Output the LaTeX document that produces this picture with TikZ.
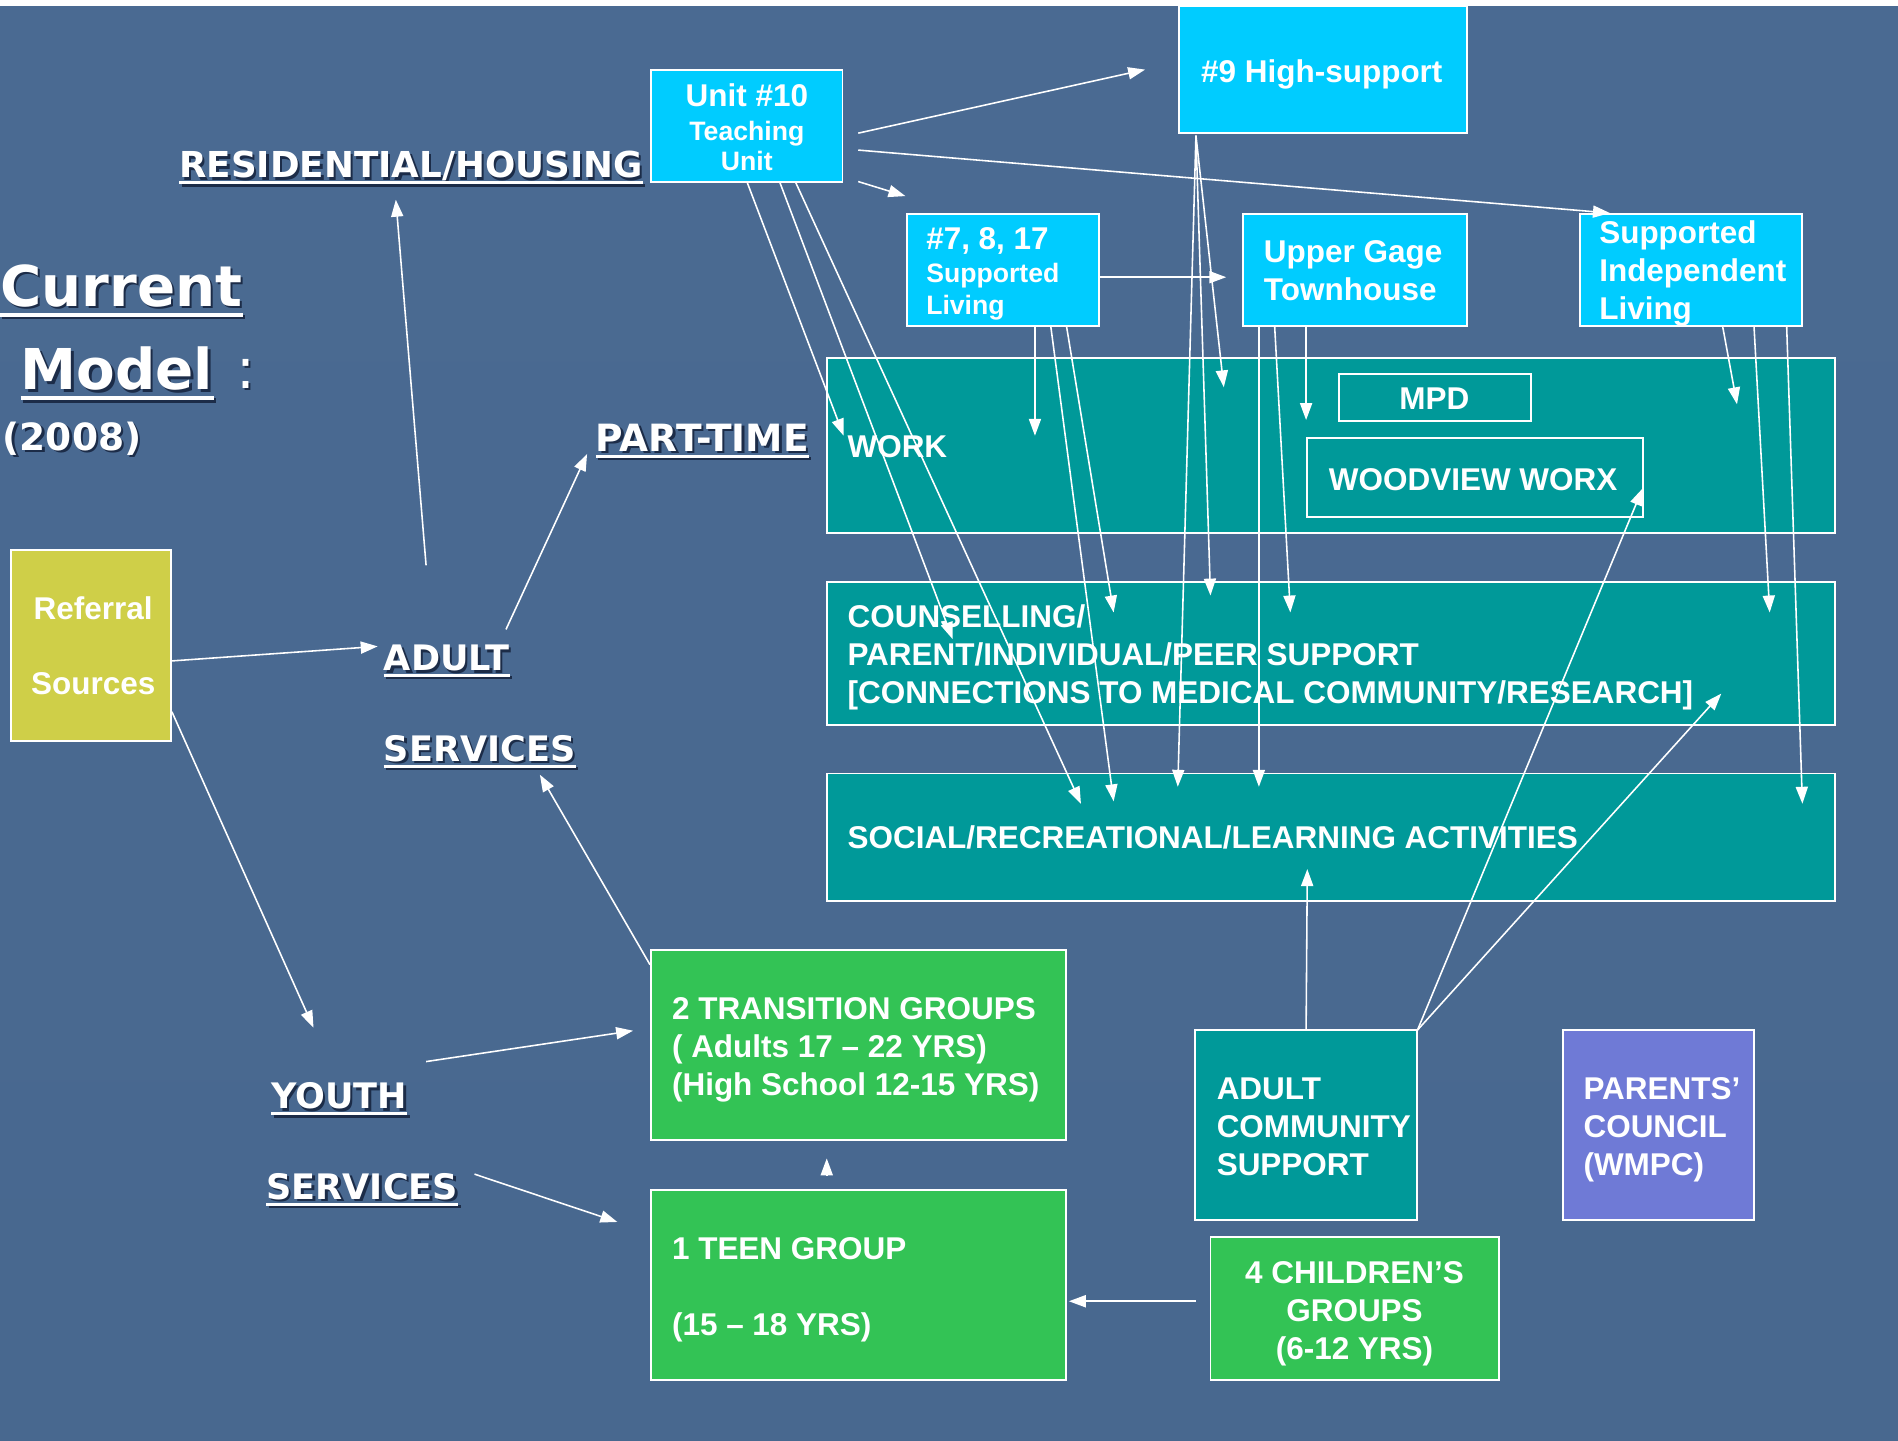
\documentclass[tikz,border=0pt]{standalone}
\usepackage{fontspec}
\setmainfont{Liberation Sans}
\newfontfamily\vfont{DejaVu Sans}
\usetikzlibrary{arrows.meta}
\definecolor{bgtop}{HTML}{4A6A92}
\definecolor{bgmid}{HTML}{6286AF}
\definecolor{bgbot}{HTML}{48688F}
\definecolor{cyanbox}{HTML}{00CCFF}
\definecolor{tealbox}{HTML}{009999}
\definecolor{greenbox}{HTML}{33C355}
\definecolor{yelbox}{HTML}{CFCF48}
\definecolor{purbox}{HTML}{6F7AD6}
\definecolor{shadowc}{HTML}{1C2C48}
% text with a drop shadow, in one box
\newcommand\shd[1]{\rlap{\kern2pt\raisebox{-2pt}{\textcolor{shadowc}{#1}}}#1}
% name, x, baseline y, font size, underline offset, underline width, text
\newcommand\ulab[7]{%
  \node[lbl, font=\vfont\bfseries\fontsize{#4}{#4}\selectfont] (#1) at (#2,#3) {\shd{#7}};
  \draw[draw=shadowc, line width=#6pt] ([shift={(2,#5+2)}]#1.base west) -- ([shift={(2,#5+2)}]#1.base east);
  \draw[draw=white, line width=#6pt] ([shift={(0,#5)}]#1.base west) -- ([shift={(0,#5)}]#1.base east);
}
\begin{document}
\begin{tikzpicture}[x=1pt,y=-1pt,
  box/.style={draw=white, line width=1.6pt, inner sep=0pt, outer sep=0pt},
  btxt/.style={text=white, inner sep=0pt, anchor=base west, align=left,
    font=\bfseries\fontsize{26}{31.5}\selectfont},
  stxt/.style={btxt, font=\bfseries\fontsize{22}{26}\selectfont},
  arr/.style={draw=white, line width=1.3pt, -{Triangle[length=14pt,width=10pt]}},
  lbl/.style={text=white, inner sep=0pt, anchor=base west},
]
\useasboundingbox (0,0) rectangle (1568,1190.4);
\shade[top color=bgtop, middle color=bgmid, bottom color=bgbot] (0,0) rectangle (1568,1190.4);
\fill[white] (0,0) rectangle (1568,5);

% ---------- title and labels ----------
\ulab{cur}{0}{253}{46.5}{7}{3.6}{Current}
\ulab{mod}{17}{322}{46.5}{7}{3.6}{Model}
\node[lbl, font=\vfont\fontsize{46.5}{46.5}\selectfont] (colon) at (195,321) {\shd{:}};
\node[lbl, font=\vfont\bfseries\fontsize{31}{31}\selectfont] (yr) at (2,372) {\shd{(2008)}};

\ulab{res}{148}{147}{29.5}{4}{2.4}{RESIDENTIAL/HOUSING}
\ulab{pt}{492}{373}{31}{4}{2.4}{PART-TIME}
\ulab{adult}{317}{554}{29}{4}{2.4}{ADULT}
\ulab{aserv}{317}{629}{29}{4}{2.4}{SERVICES}
\ulab{youth}{224}{916}{29}{4}{2.4}{YOUTH}
\ulab{yserv}{220}{991}{29}{4}{2.4}{SERVICES}

% ---------- boxes ----------
\node[box, fill=cyanbox, minimum width=158pt, minimum height=92pt] (unit10) at (617,104) {};
\node[box, fill=cyanbox, minimum width=238pt, minimum height=105pt] (hs9) at (1093,57.5) {};
\node[box, fill=cyanbox, minimum width=159pt, minimum height=92pt] (sl7) at (828.5,223) {};
\node[box, fill=cyanbox, minimum width=185pt, minimum height=92pt] (ugage) at (1119.5,223) {};
\node[box, fill=cyanbox, minimum width=184pt, minimum height=92pt] (sil) at (1397,223) {};
\node[box, fill=tealbox, minimum width=833pt, minimum height=144pt] (work) at (1099.5,368) {};
\node[box, fill=tealbox, minimum width=159pt, minimum height=39pt] (mpd) at (1185.5,328.5) {};
\node[box, fill=tealbox, minimum width=277pt, minimum height=65pt] (wood) at (1218.5,394.5) {};
\node[box, fill=tealbox, minimum width=833pt, minimum height=118pt] (couns) at (1099.5,540) {};
\node[box, fill=tealbox, minimum width=833pt, minimum height=105pt] (social) at (1099.5,691.5) {};
\node[box, fill=yelbox, minimum width=132pt, minimum height=158pt] (ref) at (75,533) {};
\node[box, fill=greenbox, minimum width=343pt, minimum height=157pt] (trans) at (709.5,863.5) {};
\node[box, fill=greenbox, minimum width=343pt, minimum height=157pt] (teen) at (709.5,1061.5) {};
\node[box, fill=tealbox, minimum width=184pt, minimum height=157pt] (acs) at (1079,929.5) {};
\node[box, fill=purbox, minimum width=158pt, minimum height=157pt] (wmpc) at (1370,929.5) {};
\node[box, fill=greenbox, minimum width=238pt, minimum height=118pt] (child) at (1119,1081) {};

% ---------- box texts (base = last line's baseline) ----------
\node[btxt, anchor=base] (unit10a) at (617,88) {Unit \#10};
\node[stxt, anchor=base] (unit10b) at (617,116) {Teaching};
\node[stxt, anchor=base] (unit10c) at (617,141) {Unit};
\node[btxt, anchor=base] (hs9t) at (1092,68) {\#9 High-support};
\node[btxt] (sl7a) at (765,206) {\#7, 8, 17};
\node[stxt] (sl7b) at (765,233) {Supported};
\node[stxt] (sl7c) at (765,260) {Living};
\node[btxt] (ugaget) at (1044,248) {Upper Gage\\Townhouse};
\node[btxt] (silt) at (1321,264) {Supported\\Independent\\Living};
\node[btxt] (workt) at (700,378) {WORK};
\node[btxt, anchor=base] (mpdt) at (1185,338) {MPD};
\node[btxt, anchor=base] (woodt) at (1217,405) {WOODVIEW WORX};
\node[btxt] (counst) at (700,581) {COUNSELLING/\\PARENT/INDIVIDUAL/PEER SUPPORT\\{[}CONNECTIONS TO MEDICAL COMMUNITY/RESEARCH]};
\node[btxt] (socialt) at (700,701) {SOCIAL/RECREATIONAL/LEARNING ACTIVITIES};
\node[btxt, anchor=base, align=center] (reft) at (77,574) {Referral\\[31pt]Sources};
\node[btxt] (transt) at (555,905) {2 TRANSITION GROUPS\\( Adults 17 – 22 YRS)\\(High School 12-15 YRS)};
\node[btxt] (teent) at (555,1103) {1 TEEN GROUP\\[31pt](15 – 18 YRS)};
\node[btxt] (acst) at (1005,971) {ADULT\\COMMUNITY\\SUPPORT};
\node[btxt] (wmpct) at (1308,971) {PARENTS’\\COUNCIL\\(WMPC)};
\node[btxt, anchor=base, align=center] (childt) at (1119,1123) {4 CHILDREN’S\\GROUPS\\(6-12 YRS)};

% ---------- free ends ----------
\coordinate (cA1) at (312,534);
\coordinate (cA2) at (259,849);
\coordinate (cA3s) at (352,467);
\coordinate (cA3e) at (327,165);
\coordinate (cA4s) at (418,520);
\coordinate (cA4e) at (485,375);
\coordinate (cA5) at (446,640);
\coordinate (cA6) at (352,877);
\coordinate (cA7) at (392,970);

% ---------- connectors ----------
\draw[arr] ([shift={(1,13)}]ref.east) -- (cA1);
\draw[arr] ([shift={(1,55)}]ref.east) -- (cA2);
\draw[arr] (cA3s) -- (cA3e);
\draw[arr] (cA4s) -- (cA4e);
\draw[arr] ([shift={(-1,12)}]trans.north west) -- (cA5);
\draw[arr] (cA6) -- ([shift={(-15,-12)}]trans.west);
\draw[arr] (cA7) -- ([shift={(-28,-52)}]teen.west);
\draw[arr] ([shift={(-26.5,-12)}]teen.north) -- ([shift={(-26.5,-26)}]teen.north);
\draw[arr] ([shift={(-12,-6)}]child.west) -- ([shift={(2,13.5)}]teen.east);
\draw[arr] (acs.north) -- ([shift={(397,79)}]social.north west);
\draw[arr] (acs.north east) -- ([shift={(0,9)}]wood.east);
\draw[arr] (acs.north east) -- ([shift={(739,92)}]couns.north west);

\draw[arr] ([shift={(13,6)}]unit10.east) -- ([shift={(-28,0)}]hs9.west);
\draw[arr] ([shift={(13,20)}]unit10.east) -- ([shift={(25,-1)}]sil.north west);
\draw[arr] ([shift={(13,46)}]unit10.east) -- ([shift={(-1,-15)}]sl7.north west);
\draw[arr] (unit10.south) -- ([shift={(14,64)}]work.north west);
\draw[arr] ([shift={(27,0)}]unit10.south) -- ([shift={(104,47)}]couns.north west);
\draw[arr] ([shift={(40,0)}]unit10.south) -- ([shift={(210,25)}]social.north west);

\draw[arr] ([shift={(-105,2)}]hs9.south) -- ([shift={(328,24)}]work.north west);
\draw[arr] ([shift={(-105,2)}]hs9.south) -- ([shift={(317,11)}]couns.north west);
\draw[arr] ([shift={(-105,2)}]hs9.south) -- ([shift={(290,11)}]social.north west);

\draw[arr] ([shift={(0,6)}]sl7.east) -- ([shift={(-14,6)}]ugage.west);
\draw[arr] ([shift={(26.5,0)}]sl7.south) -- ([shift={(172,64)}]work.north west);
\draw[arr] ([shift={(39.5,0)}]sl7.south) -- ([shift={(237,23)}]social.north west);
\draw[arr] ([shift={(52.5,0)}]sl7.south) -- ([shift={(237,25)}]couns.north west);

\draw[arr] ([shift={(-79.5,0)}]ugage.south) -- ([shift={(357,11)}]social.north west);
\draw[arr] ([shift={(-66.5,0)}]ugage.south) -- ([shift={(383,25)}]couns.north west);
\draw[arr] ([shift={(-40.5,0)}]ugage.south) -- ([shift={(396,51)}]work.north west);

\draw[arr] ([shift={(26,0)}]sil.south) -- ([shift={(752,38)}]work.north west);
\draw[arr] ([shift={(52,0)}]sil.south) -- ([shift={(779,25)}]couns.north west);
\draw[arr] ([shift={(79,0)}]sil.south) -- ([shift={(806,25)}]social.north west);
\end{tikzpicture}
\end{document}
